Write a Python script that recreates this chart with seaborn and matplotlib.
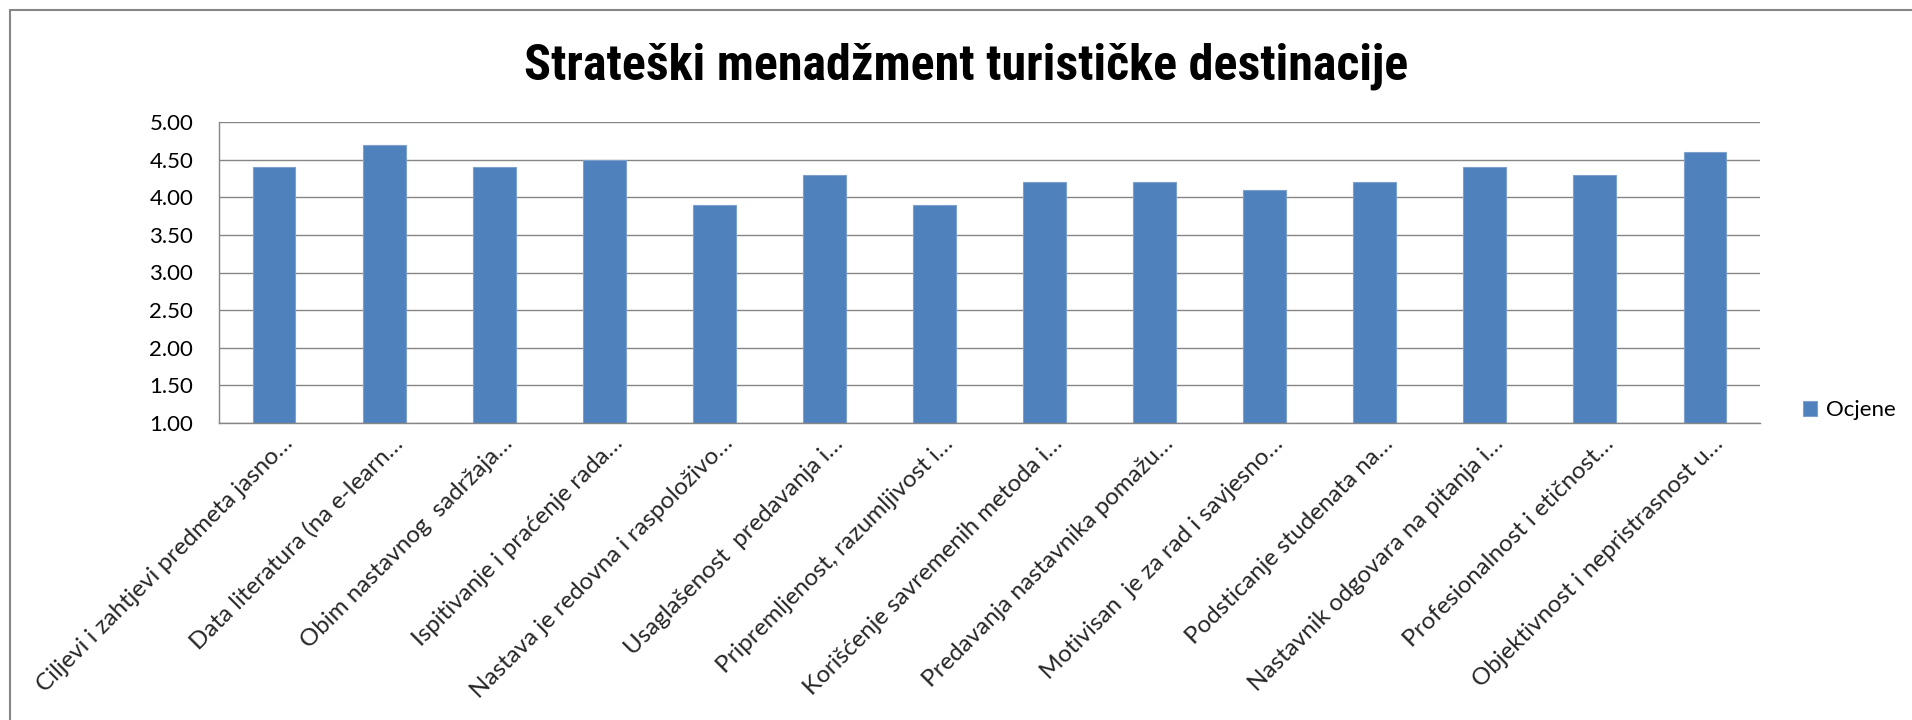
import matplotlib
matplotlib.use("Agg")
import matplotlib.pyplot as plt
from matplotlib.lines import Line2D
from matplotlib.transforms import ScaledTranslation
import numpy as np
import pandas as pd
import seaborn as sns

# ---- data -------------------------------------------------------------
naslov = "Strateški menadžment turističke destinacije"
pitanja = [
    "Ciljevi i zahtjevi predmeta jasno…",
    "Data literatura (na e-learn…",
    "Obim nastavnog  sadržaja…",
    "Ispitivanje i praćenje rada…",
    "Nastava je redovna i raspoloživo…",
    "Usaglašenost  predavanja i…",
    "Pripremljenost, razumljivost i…",
    "Korišćenje savremenih metoda i…",
    "Predavanja nastavnika pomažu…",
    "Motivisan  je za rad i savjesno…",
    "Podsticanje studenata na…",
    "Nastavnik odgovara na pitanja i…",
    "Profesionalnost i etičnost…",
    "Objektivnost i nepristrasnost u…",
]
ocjene = [4.4, 4.7, 4.4, 4.5, 3.9, 4.3, 3.9, 4.2, 4.2, 4.1, 4.2, 4.4, 4.3, 4.6]
serija = "Ocjene"
y_podjela = [1.00, 1.50, 2.00, 2.50, 3.00, 3.50, 4.00, 4.50, 5.00]

# ---- style ------------------------------------------------------------
sns.set_style("white")
plt.rcParams["font.family"] = ["Lato", "DejaVu Sans"]
plt.rcParams["text.color"] = "black"

PLAVA = "#4F81BD"
SIVA = "#868686"
W, H = 1912, 720

fig = plt.figure(figsize=(W / 100, H / 100), dpi=100)
ax = fig.add_axes([219 / W, 1 - 423 / H, (1760 - 219) / W, (423 - 122) / H])

df = pd.DataFrame({"pitanje": pitanja, "ocjena": ocjene, "serija": serija})
sns.barplot(
    data=df, x="pitanje", y="ocjena", hue="serija", palette=[PLAVA],
    width=0.39, dodge=False, edgecolor="#7EA0CC", linewidth=0.8,
    saturation=1, ax=ax,
)

ax.set_ylim(1, 5)
ax.set_xlim(-0.5, len(pitanja) - 0.5)
ax.set_xlabel("")
ax.set_ylabel("")

# y axis
ax.set_yticks(y_podjela)
ax.set_yticklabels([f"{v:.2f}" for v in y_podjela])
ax.yaxis.grid(True, color=SIVA, linewidth=1.0)
ax.set_axisbelow(True)
ax.tick_params(axis="y", direction="out", length=5, width=1, color=SIVA,
               labelsize=16, pad=13.5, labelcolor="black")

for s in ("top", "right"):
    ax.spines[s].set_visible(False)
for s in ("left", "bottom"):
    ax.spines[s].set_color(SIVA)
    ax.spines[s].set_linewidth(1.0)

# x axis: labels at category centres, tick marks between categories
ax.set_xticks(np.arange(len(pitanja)))
ax.set_xticklabels(pitanja, rotation=45, ha="right", va="center",
                   rotation_mode="anchor", fontsize=17.4)
ax.set_xticks(np.arange(len(pitanja) + 1) - 0.5, minor=True)
ax.tick_params(axis="x", which="major", length=0, pad=0)
ax.tick_params(axis="x", which="minor", direction="out", length=5, width=1,
               color=SIVA)
pomak = ScaledTranslation(0.15, -0.17, fig.dpi_scale_trans)
for lab in ax.get_xticklabels():
    lab.set_transform(lab.get_transform() + pomak)

# legend to the right of the plot area
handles, labels = ax.get_legend_handles_labels()
if ax.get_legend() is not None:
    ax.get_legend().remove()
fig.legend(handles, labels, loc="center left",
           bbox_to_anchor=(1803 / W, 1 - 410 / H), bbox_transform=fig.transFigure,
           frameon=False, borderpad=0, borderaxespad=0,
           handlelength=0.64, handleheight=0.64, handletextpad=0.4,
           fontsize=16)

# title
fig.text(966 / W, 1 - 79 / H, naslov, ha="center", va="baseline",
         fontsize=36, fontweight="bold", family=["Roboto Condensed", "Lato"])

# chart frame (top and left edges)
fig.add_artist(Line2D([10 / W, 1], [1 - 10 / H, 1 - 10 / H],
                      transform=fig.transFigure, color=SIVA, linewidth=1.5))
fig.add_artist(Line2D([10 / W, 10 / W], [0, 1 - 10 / H],
                      transform=fig.transFigure, color=SIVA, linewidth=1.5))

fig.savefig("out.png", dpi=100)
